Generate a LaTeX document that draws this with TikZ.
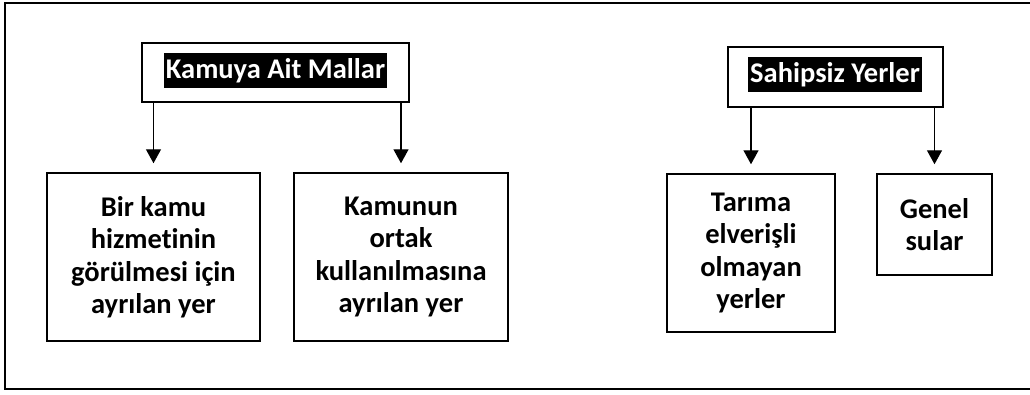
\documentclass[tikz,border=0pt]{standalone}
\usepackage{fontspec}
\setmainfont{Carlito}[Ligatures=NoCommon]
\usetikzlibrary{arrows.meta}

\tikzset{
	x=1pt, y=-1pt,
	frame/.style={line width=1.8pt},
	headbox/.style={draw, line width=1.5pt, inner sep=0pt, minimum height=59pt},
	headtext/.style={fill=black, text=white, inner xsep=2pt, inner ysep=0pt,
		minimum height=35pt, font=\bfseries\fontsize{28.5}{32}\selectfont},
	itembox/.style={draw, line width=1.5pt, inner sep=0pt, align=center,
		font=\bfseries\fontsize{28.5}{32.5}\selectfont},
	down/.style={line width=1.4pt, -{Triangle[width=15pt,length=14pt]}, shorten >=9pt}
}

\begin{document}
\begin{tikzpicture}
			\useasboundingbox (0,0) rectangle (1030,394);

			% outer frame, right side runs off the page
			\draw[frame] (5,3) rectangle (1045,389);

			% Kamuya Ait Mallar
			\begin{scope}
				\node[headbox, minimum width=267pt] (kam) at (275.5,72.5) {};
				\node[headtext] (kamt) at (275.5,70.5) {Kamuya Ait Mallar};

				\node[itembox, minimum width=213pt, minimum height=168pt] (hiz) at (153.5,257)
					{Bir kamu\\hizmetinin\\görülmesi için\\ayrılan yer};
				\node[itembox, minimum width=214pt, minimum height=168pt] (ort) at (401,257)
					{Kamunun\\ortak\\kullanılmasına\\ayrılan yer};

				\draw[down] (kam.south -| hiz.north) -- (hiz.north);
				\draw[down] (kam.south -| ort.north) -- (ort.north);
			\end{scope}

			% Sahipsiz Yerler
			\begin{scope}
				\node[headbox, minimum width=215pt, minimum height=60pt] (sah) at (835.5,77) {};
				\node[headtext] (saht) at (835,74.5) {Sahipsiz Yerler};

				\node[itembox, minimum width=168pt, minimum height=158pt] (tar) at (751,253)
					{Tarıma\\elverişli\\olmayan\\yerler};
				\node[itembox, minimum width=115pt, minimum height=101pt] (gen) at (934.5,224.5)
					{Genel\\sular};

				\draw[down] (sah.south -| tar.north) -- (tar.north);
				\draw[down] (sah.south -| gen.north) -- (gen.north);
			\end{scope}
		\end{tikzpicture}
\end{document}
